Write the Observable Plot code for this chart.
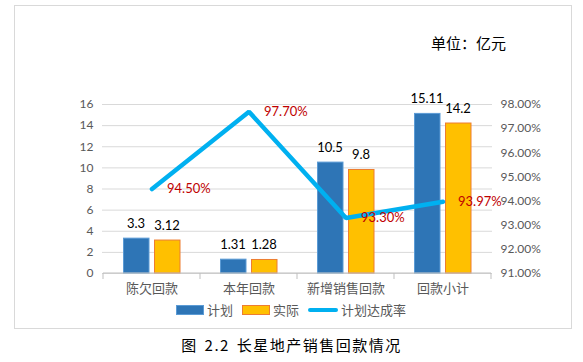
<!DOCTYPE html>
<html><head><meta charset="utf-8">
<script src="https://cdn.jsdelivr.net/npm/d3@7"></script>
<script src="https://cdn.jsdelivr.net/npm/@observablehq/plot@0.6"></script>
<style>
body{margin:0;background:#fff;font-family:Lato,"Noto Sans CJK SC",sans-serif;}
#wrap{position:relative;width:583px;height:362px;overflow:hidden;}
#frame{position:absolute;left:14px;top:5px;width:556px;height:322px;border:1px solid #D9D9D9;}
#chart{position:absolute;left:0;top:0;}
#unit{position:absolute;left:431px;top:32px;font-size:15px;color:#000;font-family:"Noto Sans CJK SC",sans-serif;}
#legend{position:absolute;left:176px;top:300px;display:flex;align-items:center;font-size:13px;color:#595959;font-family:"Noto Sans CJK SC",sans-serif;}
#legend .sw{display:inline-block;width:28px;height:10px;box-sizing:border-box;margin-right:3px;}
#legend .ln{display:inline-block;width:30px;height:4px;background:#00B0F0;border-radius:2px;margin-right:3px;}
#legend .it{display:flex;align-items:center;margin-right:9px;}
#caption{position:absolute;left:0;width:583px;top:334px;text-align:center;font-size:15px;letter-spacing:1.5px;word-spacing:2px;color:#000;font-family:"Noto Sans CJK SC",sans-serif;white-space:pre;}
</style></head>
<body>
<div id="wrap">
<div id="frame"></div>
<div id="chart"></div>
<div id="unit">单位：亿元</div>
<div id="legend"></div>
<div id="caption">图 2.2 长星地产销售回款情况</div>
</div>
<script>
const categories = ["陈欠回款", "本年回款", "新增销售回款", "回款小计"];
const planValues = [3.3, 1.31, 10.5, 15.11];
const actualValues = [3.12, 1.28, 9.8, 14.2];
const rateValues = [94.5, 97.7, 93.3, 93.97];
const rateLabels = ["94.50%", "97.70%", "93.30%", "93.97%"];
const leftTicks = [0, 2, 4, 6, 8, 10, 12, 14, 16];
const rightTicks = [91, 92, 93, 94, 95, 96, 97, 98];
const seriesNames = ["计划", "实际", "计划达成率"];

const rMin = 91, rMax = 98, yMax = 16;
const toY = p => (p - rMin) / (rMax - rMin) * yMax;
const fromY = v => v / yMax * (rMax - rMin) + rMin;

const data = categories.map((c, i) => ({cat: c, plan: planValues[i], actual: actualValues[i], rate: rateValues[i], rateLabel: rateLabels[i]}));

const plot = Plot.plot({
  width: 583, height: 330,
  marginLeft: 102, marginRight: 91, marginTop: 104, marginBottom: 57,
  style: {fontFamily: "Lato, 'Noto Sans CJK SC', sans-serif", fontSize: "12px", color: "#595959", background: "transparent"},
  x: {domain: categories, padding: 0, label: null},
  y: {domain: [0, yMax], label: null},
  marks: [
    Plot.ruleY(leftTicks, {stroke: "#D9D9D9", strokeWidth: 1}),
    Plot.axisY({anchor: "left", ticks: leftTicks, tickSize: 0, tickPadding: 9, fontSize: 12, fill: "#595959", label: null}),
    Plot.axisY({anchor: "right", ticks: rightTicks.map(toY), tickFormat: v => fromY(v).toFixed(2) + "%", tickSize: 0, tickPadding: 8, fontSize: 12, fill: "#595959", label: null}),
    Plot.axisX({tickSize: 0, tickPadding: 10, fontSize: 13, fill: "#595959", fontFamily: "'Noto Sans CJK SC', sans-serif", label: null}),
    Plot.barY(data, {x: "cat", y: "plan", fill: "#2E75B6", stroke: "#5B9BD5", strokeWidth: 1, insetLeft: 20.5, insetRight: 51}),
    Plot.barY(data, {x: "cat", y: "actual", fill: "#FFC000", stroke: "#ED7D31", strokeWidth: 1, insetLeft: 51.5, insetRight: 20}),
    Plot.text(data, {x: "cat", y: "plan", text: d => String(d.plan), dx: -16, dy: -15, fill: "#000", fontSize: 13}),
    Plot.text(data, {x: "cat", y: "actual", text: d => String(d.actual), dx: 15, dy: -15, fill: "#000", fontSize: 13}),
    Plot.line(data, {x: "cat", y: d => toY(d.rate), stroke: "#00B0F0", strokeWidth: 4.5, strokeLinejoin: "miter"}),
    Plot.text(data, {x: "cat", y: d => toY(d.rate), text: "rateLabel", dx: 15, textAnchor: "start", fill: "#C00000", fontSize: 13})
  ]
});
document.getElementById("chart").appendChild(plot);

// baseline and band-boundary ticks via the plot's scales
const xs = plot.scale("x"), ys = plot.scale("y");
const y0 = ys.apply(0);
const bounds = categories.map(c => xs.apply(c)).concat([xs.apply(categories[categories.length - 1]) + xs.bandwidth]);
const svg = d3.select(plot);
svg.append("line").attr("x1", bounds[0]).attr("x2", bounds[bounds.length - 1]).attr("y1", y0).attr("y2", y0).attr("stroke", "#BFBFBF");
bounds.forEach(b => svg.append("line").attr("x1", b).attr("x2", b).attr("y1", y0).attr("y2", y0 + 6).attr("stroke", "#BFBFBF"));

// legend
const lg = document.getElementById("legend");
lg.innerHTML =
  `<span class="it"><span class="sw" style="background:#2E75B6;border:1px solid #5B9BD5"></span>${seriesNames[0]}</span>` +
  `<span class="it"><span class="sw" style="background:#FFC000;border:1px solid #ED7D31"></span>${seriesNames[1]}</span>` +
  `<span class="it"><span class="ln"></span>${seriesNames[2]}</span>`;
</script>
</body></html>
